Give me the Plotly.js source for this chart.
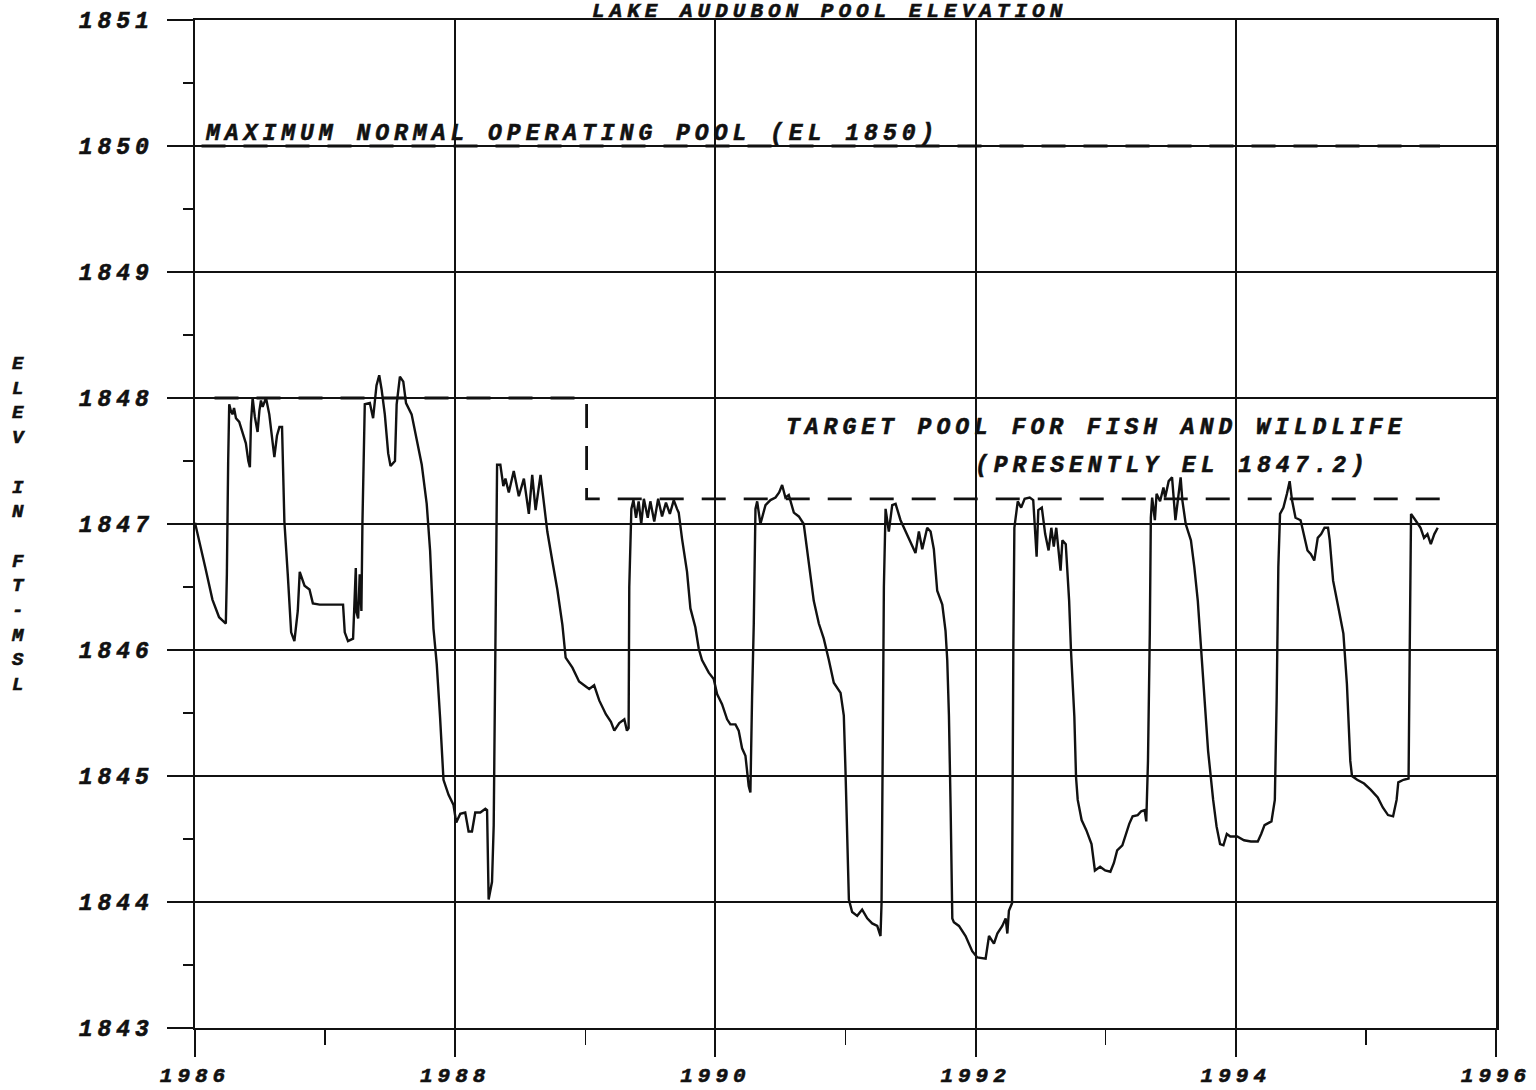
<!DOCTYPE html>
<html>
<head>
<meta charset="utf-8">
<script src="https://cdn.plot.ly/plotly-3.0.1.min.js"></script>
<style>
html, body { margin: 0; padding: 0; background: #fff; }
#chart { width: 1536px; height: 1090px; }
svg text { letter-spacing: 5px; stroke: #111; stroke-width: 0.6px; }
</style>
</head>
<body>
<div id="chart"></div>
<script>
// ---- Data ----
var chartTitle = "LAKE AUDUBON POOL ELEVATION";
var yTitleLetters = ["E","L","E","V"," ","I","N"," ","F","T","-","M","S","L"];
var maxPoolLabel = "MAXIMUM NORMAL OPERATING POOL (EL 1850)";
var targetLabel1 = "TARGET POOL FOR FISH AND WILDLIFE";
var targetLabel2 = "(PRESENTLY EL 1847.2)";

var xTickVals = [1986, 1988, 1990, 1992, 1994, 1996];
var xTickText = ["1986", "1988", "1990", "1992", "1994", "1996"];
var xMinorVals = [1987, 1989, 1991, 1993, 1995];
var yTickVals = [1843, 1844, 1845, 1846, 1847, 1848, 1849, 1850, 1851];
var yTickText = ["1843", "1844", "1845", "1846", "1847", "1848", "1849", "1850", "1851"];

// maximum normal operating pool (EL 1850)
var maxPoolX = [1986.05, 1995.57];
var maxPoolY = [1850, 1850];
// target pool for fish and wildlife (1848 until 1989, then 1847.2)
var targetX = [1986.15, 1989.01, 1989.01, 1995.57];
var targetY = [1848, 1848, 1847.2, 1847.2];

// pool elevation record (decimal year, ft MSL)
var poolYear = [
1986.000,1986.031,1986.080,1986.134,1986.185,1986.237,1986.245,1986.255,1986.263,1986.275,
1986.288,1986.300,1986.315,1986.340,1986.365,1986.391,1986.410,1986.422,1986.430,1986.443,
1986.460,1986.481,1986.495,1986.507,1986.520,1986.546,1986.571,1986.590,1986.610,1986.630,
1986.649,1986.669,1986.678,1986.687,1986.713,1986.739,1986.764,1986.790,1986.805,1986.816,
1986.842,1986.880,1986.906,1986.958,1987.138,1987.151,1987.176,1987.215,1987.228,1987.236,
1987.241,1987.254,1987.266,1987.279,1987.287,1987.305,1987.344,1987.369,1987.395,1987.416,
1987.434,1987.459,1987.485,1987.503,1987.537,1987.550,1987.575,1987.601,1987.622,1987.665,
1987.704,1987.743,1987.781,1987.807,1987.833,1987.858,1987.884,1987.910,1987.949,1987.987,
1988.008,1988.039,1988.077,1988.103,1988.129,1988.154,1988.193,1988.232,1988.245,1988.257,
1988.283,1988.296,1988.309,1988.322,1988.347,1988.370,1988.386,1988.412,1988.450,1988.489,
1988.528,1988.566,1988.592,1988.618,1988.656,1988.682,1988.708,1988.746,1988.785,1988.824,
1988.849,1988.901,1988.952,1988.991,1989.030,1989.068,1989.107,1989.158,1989.197,1989.223,
1989.261,1989.300,1989.320,1989.333,1989.338,1989.354,1989.370,1989.390,1989.410,1989.430,
1989.450,1989.480,1989.500,1989.530,1989.560,1989.590,1989.620,1989.650,1989.680,1989.705,
1989.718,1989.744,1989.782,1989.808,1989.846,1989.872,1989.897,1989.949,1989.987,1990.013,
1990.051,1990.090,1990.115,1990.154,1990.179,1990.205,1990.231,1990.256,1990.269,1990.282,
1990.295,1990.308,1990.321,1990.346,1990.385,1990.423,1990.462,1990.490,1990.513,1990.538,
1990.564,1990.603,1990.641,1990.679,1990.705,1990.731,1990.756,1990.795,1990.833,1990.872,
1990.910,1990.962,1990.987,1991.000,1991.013,1991.026,1991.051,1991.090,1991.128,1991.167,
1991.205,1991.244,1991.269,1991.277,1991.287,1991.295,1991.308,1991.333,1991.359,1991.385,
1991.423,1991.462,1991.500,1991.538,1991.564,1991.590,1991.628,1991.654,1991.679,1991.705,
1991.744,1991.769,1991.782,1991.795,1991.808,1991.821,1991.833,1991.872,1991.923,1991.974,
1992.013,1992.077,1992.103,1992.141,1992.167,1992.205,1992.231,1992.244,1992.256,1992.280,
1992.290,1992.298,1992.324,1992.350,1992.377,1992.416,1992.443,1992.469,1992.482,1992.509,
1992.535,1992.561,1992.582,1992.601,1992.620,1992.653,1992.667,1992.693,1992.719,1992.733,
1992.759,1992.772,1992.785,1992.815,1992.851,1992.891,1992.917,1992.957,1992.996,1993.036,
1993.063,1993.088,1993.128,1993.154,1993.181,1993.207,1993.246,1993.273,1993.299,1993.312,
1993.325,1993.339,1993.347,1993.357,1993.378,1993.391,1993.418,1993.444,1993.457,1993.484,
1993.510,1993.536,1993.563,1993.576,1993.589,1993.615,1993.655,1993.681,1993.708,1993.734,
1993.760,1993.787,1993.826,1993.852,1993.879,1993.905,1993.931,1993.958,1994.011,1994.063,
1994.116,1994.169,1994.195,1994.221,1994.274,1994.300,1994.314,1994.327,1994.340,1994.366,
1994.393,1994.414,1994.432,1994.459,1994.498,1994.524,1994.551,1994.577,1994.603,1994.630,
1994.656,1994.682,1994.709,1994.722,1994.748,1994.788,1994.827,1994.854,1994.867,1994.880,
1994.893,1994.933,1994.986,1995.038,1995.091,1995.130,1995.170,1995.209,1995.236,1995.249,
1995.289,1995.328,1995.336,1995.347,1995.381,1995.420,1995.447,1995.473,1995.499,1995.526,
1995.552
];
var poolElev = [
1847.01,1846.88,1846.65,1846.40,1846.26,1846.21,1846.60,1847.50,1847.95,1847.90,
1847.87,1847.92,1847.84,1847.81,1847.72,1847.64,1847.50,1847.45,1847.80,1848.00,
1847.85,1847.73,1847.90,1847.98,1847.93,1848.00,1847.87,1847.70,1847.53,1847.70,
1847.77,1847.77,1847.40,1847.02,1846.60,1846.14,1846.07,1846.31,1846.62,1846.59,
1846.51,1846.48,1846.37,1846.36,1846.36,1846.14,1846.07,1846.09,1846.45,1846.65,
1846.30,1846.25,1846.60,1846.31,1847.01,1847.95,1847.96,1847.84,1848.10,1848.18,
1848.07,1847.87,1847.56,1847.46,1847.50,1847.95,1848.17,1848.13,1847.96,1847.87,
1847.67,1847.47,1847.16,1846.79,1846.17,1845.89,1845.46,1844.97,1844.85,1844.77,
1844.63,1844.70,1844.71,1844.56,1844.56,1844.71,1844.71,1844.74,1844.73,1844.02,
1844.16,1844.61,1846.03,1847.47,1847.47,1847.30,1847.36,1847.25,1847.42,1847.22,
1847.36,1847.08,1847.39,1847.11,1847.39,1847.16,1846.94,1846.71,1846.48,1846.20,
1845.94,1845.86,1845.75,1845.72,1845.69,1845.72,1845.60,1845.49,1845.43,1845.36,
1845.42,1845.45,1845.36,1845.38,1846.50,1847.12,1847.19,1847.05,1847.18,1847.00,
1847.20,1847.05,1847.18,1847.02,1847.20,1847.06,1847.17,1847.08,1847.19,1847.12,
1847.09,1846.88,1846.62,1846.33,1846.18,1846.01,1845.92,1845.82,1845.77,1845.65,
1845.57,1845.45,1845.41,1845.41,1845.36,1845.22,1845.16,1844.92,1844.87,1845.63,
1846.21,1847.12,1847.18,1847.00,1847.15,1847.19,1847.21,1847.25,1847.31,1847.21,
1847.23,1847.09,1847.06,1847.00,1846.80,1846.56,1846.39,1846.21,1846.09,1845.92,
1845.74,1845.66,1845.48,1845.04,1844.46,1844.02,1843.92,1843.89,1843.94,1843.87,
1843.83,1843.81,1843.73,1843.99,1845.33,1846.50,1847.12,1846.94,1847.15,1847.16,
1847.03,1846.94,1846.85,1846.77,1846.94,1846.80,1846.97,1846.94,1846.80,1846.47,
1846.36,1846.15,1845.92,1845.48,1844.75,1843.87,1843.84,1843.81,1843.73,1843.61,
1843.56,1843.55,1843.73,1843.67,1843.75,1843.81,1843.87,1843.75,1843.93,1843.99,
1846.00,1846.97,1847.18,1847.13,1847.20,1847.21,1847.19,1846.74,1847.11,1847.13,
1846.92,1846.79,1846.97,1846.82,1846.97,1846.63,1846.87,1846.84,1846.39,1846.00,
1845.47,1844.99,1844.81,1844.65,1844.57,1844.46,1844.25,1844.28,1844.25,1844.24,
1844.31,1844.41,1844.45,1844.54,1844.62,1844.68,1844.69,1844.72,1844.73,1844.64,
1845.12,1846.13,1847.05,1847.21,1847.03,1847.24,1847.18,1847.29,1847.21,1847.34,
1847.37,1847.03,1847.24,1847.37,1847.19,1847.00,1846.87,1846.66,1846.39,1846.00,
1845.60,1845.20,1844.81,1844.60,1844.46,1844.45,1844.54,1844.52,1844.52,1844.49,
1844.48,1844.48,1844.54,1844.61,1844.64,1844.81,1845.60,1846.66,1847.08,1847.13,
1847.24,1847.34,1847.19,1847.05,1847.03,1846.92,1846.79,1846.76,1846.71,1846.89,
1846.92,1846.97,1846.97,1846.87,1846.55,1846.34,1846.13,1845.73,1845.34,1845.12,
1845.00,1844.97,1844.94,1844.89,1844.83,1844.75,1844.69,1844.68,1844.81,1844.95,
1844.97,1844.98,1845.90,1847.08,1847.03,1846.97,1846.89,1846.92,1846.84,1846.92,
1846.97
];

// ---- Styling ----
var FONT = "'Liberation Mono', 'Courier New', monospace";
function f(size) { return {family: FONT, size: size, color: "#111", weight: 700, style: "italic"}; }

var traces = [
  {x: maxPoolX, y: maxPoolY, mode: "lines", type: "scatter",
   line: {color: "#111", width: 2.8, dash: "24px,18px"}, hoverinfo: "skip"},
  {x: targetX, y: targetY, mode: "lines", type: "scatter",
   line: {color: "#111", width: 2.8, dash: "24px,18px"}, hoverinfo: "skip"},
  {x: poolYear, y: poolElev, mode: "lines", type: "scatter",
   line: {color: "#111", width: 2.4}}
];

var yTitleText = yTitleLetters.join("<br>");

var layout = {
  width: 1536, height: 1090,
  margin: {l: 195, r: 40, t: 20, b: 62},
  paper_bgcolor: "#fff", plot_bgcolor: "#fff",
  showlegend: false,
  font: f(22),
  xaxis: {
    range: [1986, 1996],
    tickmode: "array", tickvals: xTickVals, ticktext: xTickText,
    ticks: "outside", ticklen: 27, tickwidth: 2, tickcolor: "#111",
    showgrid: true, gridcolor: "#111", gridwidth: 2,
    showline: true, linecolor: "#111", linewidth: 2, mirror: true,
    zeroline: false,
    tickfont: f(21),
    ticklabelstandoff: 0,
    minor: {tickmode: "array", tickvals: xMinorVals, ticks: "outside", ticklen: 15,
            tickwidth: 1.5, tickcolor: "#111", showgrid: false}
  },
  yaxis: {
    range: [1843, 1851],
    tickmode: "array", tickvals: yTickVals, ticktext: yTickText,
    ticks: "outside", ticklen: 26, tickwidth: 2, tickcolor: "#111",
    showgrid: true, gridcolor: "#111", gridwidth: 1.6,
    showline: true, linecolor: "#111", linewidth: 2.5, mirror: true,
    zeroline: false,
    tickfont: f(23),
    ticklabelstandoff: 8,
    minor: {dtick: 0.5, ticks: "outside", ticklen: 10, tickwidth: 1.5,
            tickcolor: "#111", showgrid: false}
  },
  annotations: [
    {text: chartTitle, xref: "paper", yref: "paper", x: 0.488, y: 1.0, yshift: 9,
     xanchor: "center", yanchor: "middle", showarrow: false, font: f(21)},
    {text: yTitleText, xref: "paper", yref: "paper", x: -0.135, y: 0.5,
     xanchor: "center", yanchor: "middle", showarrow: false, font: f(19), align: "center"},
    {text: maxPoolLabel, xref: "x", yref: "y", x: 1986.06, y: 1850, yshift: 12,
     xanchor: "left", yanchor: "middle", align: "left", showarrow: false, font: f(23)},
    {text: targetLabel1, xref: "x", yref: "y", x: 1990.53, y: 1848, yshift: -30,
     xanchor: "left", yanchor: "middle", align: "left", showarrow: false, font: f(23)},
    {text: targetLabel2, xref: "x", yref: "y", x: 1991.98, y: 1848, yshift: -68,
     xanchor: "left", yanchor: "middle", align: "left", showarrow: false, font: f(23)}
  ]
};

Plotly.newPlot("chart", traces, layout, {staticPlot: true, displayModeBar: false});
</script>
</body>
</html>
